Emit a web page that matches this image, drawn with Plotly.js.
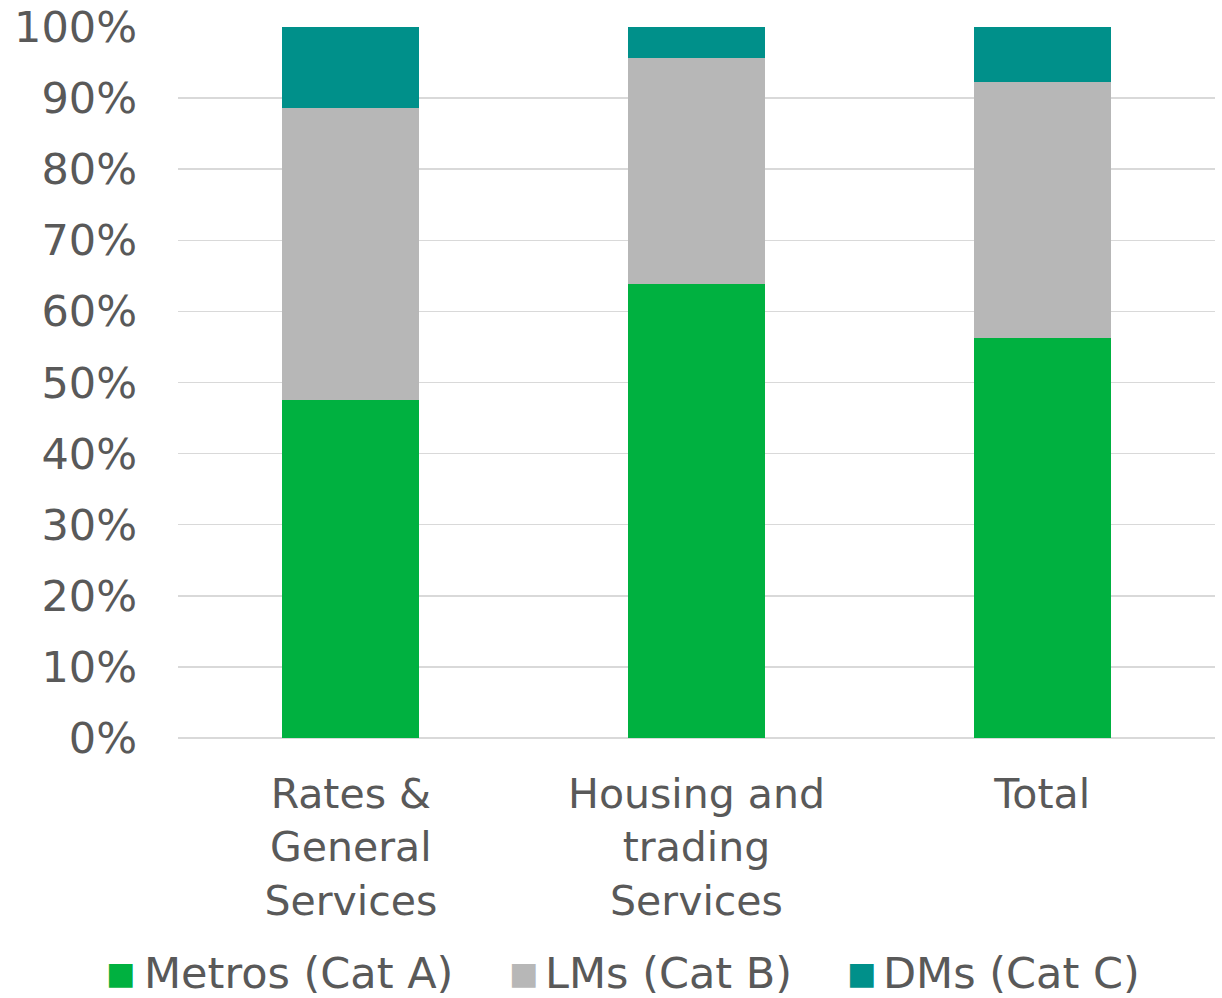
<!DOCTYPE html>
<html>
<head>
<meta charset="utf-8">
<script src="https://cdn.plot.ly/plotly-3.0.1.min.js"></script>
<style>html,body{margin:0;padding:0;background:#fff;}#chart{width:1222px;height:998px;}</style>
</head>
<body>
<div id="chart"></div>
<script>
const categories = ["Rates &<br>General<br>Services", "Housing and<br>trading<br>Services", "Total"];
const seriesNames = ["Metros (Cat A)", "LMs (Cat B)", "DMs (Cat C)"];
const metros = [47.6, 63.9, 56.3];
const lms = [41.0, 31.7, 36.0];
const dms = [11.4, 4.4, 7.7];
const yTickValues = [0, 10, 20, 30, 40, 50, 60, 70, 80, 90, 100];
const yTickLabels = yTickValues.map(v => v + "%");

const colors = ["#00B140", "#B7B7B7", "#00908A"];
const values = [metros, lms, dms];
const traces = values.map((v, i) => ({
  type: "bar",
  x: categories,
  y: v,
  name: seriesNames[i],
  marker: {color: colors[i]},
  hoverinfo: "skip",
  showlegend: false
}));

// legend drawn as annotations (square swatch + label)
const legendSquareX = [104, 507, 845];
const legendTextX = [142, 543, 881];
const legendY = 973;
const toPx = px => (px - 178) / 1037;
const toPy = py => (738 - py) / 711;
const annotations = [];
seriesNames.forEach((n, i) => {
  annotations.push({
    xref: "paper", yref: "paper", x: toPx(legendSquareX[i]), y: toPy(legendY),
    xanchor: "left", yanchor: "middle", showarrow: false,
    text: "■", font: {size: 31, color: colors[i], family: "DejaVu Sans"}
  });
  annotations.push({
    xref: "paper", yref: "paper", x: toPx(legendTextX[i]), y: toPy(legendY),
    xanchor: "left", yanchor: "middle", showarrow: false,
    text: n, font: {size: 43, color: "#595959"}
  });
});

const layout = {
  width: 1222, height: 998,
  barmode: "stack",
  bargap: 0.604,
  margin: {l: 178, r: 7, t: 27, b: 260, autoexpand: false},
  paper_bgcolor: "#fff", plot_bgcolor: "#fff",
  font: {family: "DejaVu Sans, Verdana, sans-serif", size: 41, color: "#595959"},
  xaxis: {
    type: "category", automargin: false,
    showgrid: false, zeroline: false, showline: false,
    ticks: "", ticklabelstandoff: 28,
    tickfont: {size: 41, color: "#595959"}
  },
  yaxis: {
    range: [0, 100], tickmode: "array", tickvals: yTickValues, ticktext: yTickLabels,
    automargin: false,
    showgrid: true, gridcolor: "#D9D9D9", gridwidth: 1.5,
    zeroline: true, zerolinecolor: "#D9D9D9", zerolinewidth: 1.5,
    showline: false, ticks: "", ticklabelstandoff: 40,
    tickfont: {size: 43, color: "#595959"}
  },
  showlegend: false,
  annotations: annotations
};

Plotly.newPlot("chart", traces, layout, {displayModeBar: false, staticPlot: true});
</script>
</body>
</html>
